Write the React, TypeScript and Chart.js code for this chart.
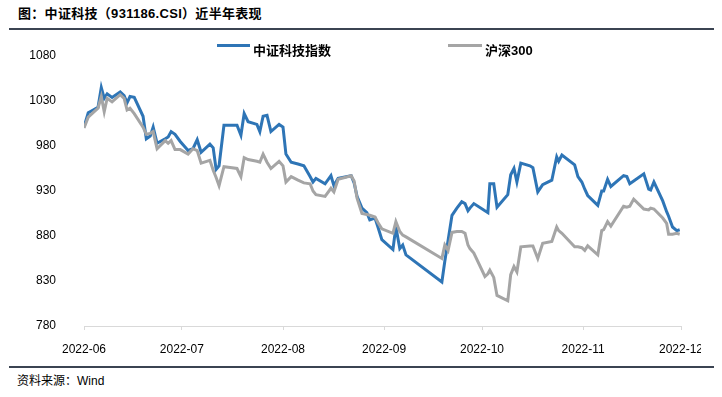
import React, { useEffect, useRef } from "react";
import { Chart, registerables } from "chart.js";

Chart.register(...registerables);

// days since 2022-06-01
const dayOffsets = [
  0, 1.3, 2.8, 4.3, 5.3, 6.2, 7.1, 8.6, 11.1, 12.3, 13.2, 14.1, 15.4, 18.1, 19.1, 20.3, 21.2, 22.4,
  24.9, 25.8, 26.7, 27.9, 29.5, 31.9, 33.4, 34.7, 35.9, 38.6, 39.6, 40.5, 41.4, 42.9, 44.8, 46.9,
  48.1, 49.1, 50.3, 53.0, 53.9, 54.9, 56.1, 57.3, 59.8, 61.0, 61.9, 63.5, 65.6, 67.4, 69.3, 70.2,
  71.1, 73.9, 75.7, 76.6, 77.9, 81.9, 82.8, 83.7, 85.2, 86.7, 87.6, 89.2, 90.1, 91.3, 94.7, 95.6,
  96.8, 97.7, 98.7, 109.7, 110.6, 111.6, 112.8, 114.3, 115.8, 116.8, 117.7, 118.3, 119.5, 122.9,
  123.8, 124.4, 125.6, 126.6, 129.9, 130.8, 131.8, 132.7, 133.9, 136.7, 137.6, 139.1, 140.6, 143.4,
  144.9, 145.5, 146.5, 150.4, 151.4, 152.6, 153.5, 154.4, 157.5, 158.7, 159.3, 160.5, 161.5, 165.4,
  166.4, 167.3, 168.5, 171.6, 173.1, 173.7, 174.7, 177.4, 178.6, 179.2, 180.4, 181.7, 182.6,
];

const techIndex = [
  1001, 1017, 1020, 1023, 1045, 1033, 1038, 1034, 1040, 1036, 1028, 1035, 1034, 1013, 988, 991, 1001, 983,
  988, 990, 996, 993, 985, 975, 977, 987, 973, 982, 978, 954, 958, 1003, 1003, 1003,
  992, 1016, 1007, 1004, 996, 1013, 1014, 996, 1004, 1001, 971, 962, 960, 958, 946, 940,
  944, 938, 947, 936, 944, 947, 939, 924, 911, 906, 898, 900, 890, 876, 865, 890,
  866, 870, 859, 829, 852, 875, 903, 911, 918, 916, 908, 911, 916, 908,
  906, 938, 938, 912, 926, 948, 955, 940, 961, 958, 956, 929, 937, 942,
  968, 963, 970, 959, 946, 940, 932, 925, 914, 930, 930, 943, 935, 947,
  946, 938, 941, 949, 932, 931, 940, 919, 907, 902, 890, 886, 887,
];

const hs300 = [
  1000, 1012, 1017, 1022, 1035, 1018, 1033, 1029, 1037, 1033, 1020, 1022, 1016, 1001, 993, 994, 996, 977,
  986, 983, 986, 976, 976, 971, 977, 975, 961, 964, 953, 945, 936, 957, 956, 955,
  946, 967, 965, 963, 962, 971, 962, 955, 963, 958, 940, 946, 942, 939, 938, 930,
  926, 924, 933, 929, 943, 947, 941, 922, 905, 904, 903, 901, 895, 888, 883, 896,
  885, 881, 879, 855, 870, 864, 884, 885, 885, 883, 870, 866, 861, 835,
  838, 842, 834, 814, 808, 837, 846, 840, 868, 869, 869, 855, 872, 874,
  890, 886, 883, 868, 868, 867, 864, 869, 859, 886, 887, 896, 891, 913,
  912, 913, 921, 910, 909, 911, 910, 900, 894, 882, 882, 883, 882,
];

const monthTickDays = [0, 30, 61, 92, 122, 153, 183];
const monthLabels = ["2022-06", "2022-07", "2022-08", "2022-09", "2022-10", "2022-11", "2022-12"];
const seriesNames = ["中证科技指数", "沪深300"];
const seriesColors = ["#2e75b6", "#a5a5a5"];

const CJK = '"Liberation Sans", "Noto Sans CJK SC", Arial, sans-serif';

export default function App() {
  const ref = useRef<HTMLCanvasElement | null>(null);

  useEffect(() => {
    if (!ref.current) return;
    const chart = new Chart(ref.current, {
      type: "line",
      data: {
        datasets: [
          {
            label: seriesNames[0],
            data: dayOffsets.map((d, i) => ({ x: d, y: techIndex[i] })),
            borderColor: seriesColors[0],
            backgroundColor: seriesColors[0],
            borderWidth: 3,
            pointRadius: 0,
            tension: 0,
            order: 1,
          },
          {
            label: seriesNames[1],
            data: dayOffsets.map((d, i) => ({ x: d, y: hs300[i] })),
            borderColor: seriesColors[1],
            backgroundColor: seriesColors[1],
            borderWidth: 3,
            pointRadius: 0,
            tension: 0,
            order: 0,
          },
        ],
      },
      options: {
        animation: false,
        responsive: false,
        maintainAspectRatio: false,
        layout: { padding: { top: 56, right: 41, left: 0, bottom: 0 } },
        plugins: { legend: { display: false }, tooltip: { enabled: false } },
        scales: {
          x: {
            type: "linear",
            min: 0,
            max: 183,
            afterBuildTicks: (s: any) => {
              s.ticks = monthTickDays.map((v) => ({ value: v }));
            },
            afterFit: (s: any) => {
              s.height = 36;
            },
            grid: { display: true, drawOnChartArea: false, drawTicks: true, tickLength: 4, color: "#d9d9d9" },
            border: { display: true, color: "#d9d9d9", width: 1 },
            ticks: {
              autoSkip: false,
              maxRotation: 0,
              padding: 12,
              color: "#000",
              font: { family: "Liberation Sans", size: 12 },
              callback: (_v: any, i: number) => monthLabels[i],
            },
          },
          y: {
            min: 780,
            max: 1080,
            afterFit: (s: any) => {
              s.width = 84;
            },
            grid: { display: false },
            border: { display: false },
            ticks: {
              stepSize: 50,
              padding: 20,
              color: "#000",
              font: { family: "Liberation Sans", size: 12 },
              callback: (v: any) => String(v),
            },
          },
        },
      },
    });
    return () => chart.destroy();
  }, []);

  return (
    <div
      style={{
        position: "absolute",
        left: 0,
        top: 0,
        width: 722,
        height: 397,
        background: "#fff",
        overflow: "hidden",
        fontFamily: CJK,
      }}
    >
      <div
        style={{
          position: "absolute",
          left: 18,
          top: 6,
          fontSize: 13,
          lineHeight: "16px",
          fontWeight: "bold",
          color: "#000",
          whiteSpace: "nowrap",
          letterSpacing: 0.3,
        }}
      >
        图：中证科技（931186.CSI）近半年表现
      </div>
      <div style={{ position: "absolute", left: 9, top: 28, width: 705, height: 2, background: "#3b4452" }} />

      <div style={{ position: "absolute", left: 0, top: 0, width: 701, height: 362, overflow: "hidden" }}>
        <canvas ref={ref} width={722} height={362} style={{ display: "block", width: 722, height: 362 }} />
      </div>

      <div style={{ position: "absolute", left: 217, top: 43.5, width: 33, height: 3, background: seriesColors[0] }} />
      <div
        style={{
          position: "absolute",
          left: 253,
          top: 43,
          fontSize: 13,
          lineHeight: "16px",
          fontWeight: "bold",
          whiteSpace: "nowrap",
          color: "#000",
        }}
      >
        {seriesNames[0]}
      </div>
      <div style={{ position: "absolute", left: 448, top: 43.5, width: 34, height: 3, background: seriesColors[1] }} />
      <div
        style={{
          position: "absolute",
          left: 485,
          top: 43,
          fontSize: 13,
          lineHeight: "16px",
          fontWeight: "bold",
          whiteSpace: "nowrap",
          color: "#000",
        }}
      >
        {seriesNames[1]}
      </div>

      <div style={{ position: "absolute", left: 9, top: 366, width: 705, height: 1.5, background: "#3b4452" }} />
      <div
        style={{
          position: "absolute",
          left: 17,
          top: 374,
          fontSize: 12,
          lineHeight: "15px",
          color: "#000",
          whiteSpace: "nowrap",
        }}
      >
        资料来源：Wind
      </div>
    </div>
  );
}
